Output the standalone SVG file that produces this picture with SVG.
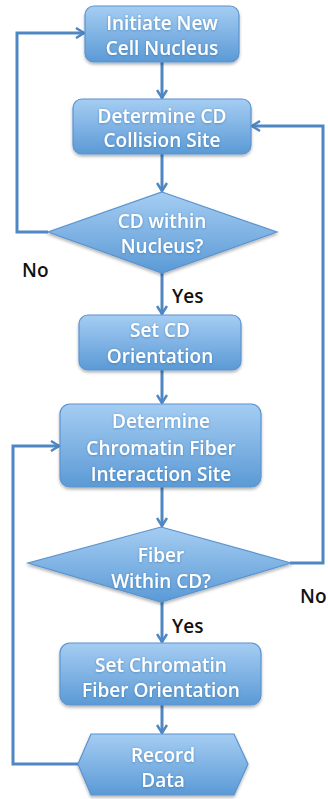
<svg xmlns="http://www.w3.org/2000/svg" width="328" height="799" viewBox="0 0 328 799">
<style>
.node{fill:url(#g);stroke:#5a93cf;stroke-width:1.2;filter:url(#sh)}
.t{font-family:"Open Sans","Liberation Sans",sans-serif;font-size:19px;font-weight:600;fill:#ffffff;text-anchor:middle;filter:url(#ts)}
.lbl{font-family:"Open Sans","Liberation Sans",sans-serif;font-size:19px;font-weight:600;fill:#111111}
.c{fill:none;stroke:#4f87c3;stroke-width:3;marker-end:url(#ah)}
</style>
<defs>
<linearGradient id="g" x1="0" y1="0" x2="0" y2="1">
<stop offset="0" stop-color="#a5cdf2"/>
<stop offset="1" stop-color="#5b9ad6"/>
</linearGradient>
<filter id="sh" x="-10%" y="-10%" width="120%" height="130%">
<feDropShadow dx="0" dy="2" stdDeviation="1.5" flood-color="#000" flood-opacity="0.3"/>
</filter>
<filter id="ts" x="-10%" y="-20%" width="120%" height="140%">
<feDropShadow dx="0" dy="0.5" stdDeviation="0.8" flood-color="#1d4f85" flood-opacity="0.45"/>
</filter>
<marker id="ah" viewBox="0 0 12 12" refX="10" refY="6" markerWidth="12" markerHeight="12" markerUnits="userSpaceOnUse" orient="auto">
<path d="M2,1 L10,6 L2,11" fill="none" stroke="#4f87c3" stroke-width="2.5"/>
</marker>
</defs>
<g id="connectors">
<path class="c" d="M162,62 V98"/>
<path class="c" d="M162,154 V191"/>
<path class="c" d="M48,232 H17 V33 H84"/>
<path class="c" d="M162,273 V314"/>
<path class="c" d="M162,370 V403"/>
<path class="c" d="M162,487 V526"/>
<path class="c" d="M290,563 H323 V126 H252"/>
<path class="c" d="M162,602 V642"/>
<path class="c" d="M162,705 V733"/>
<path class="c" d="M78,764 H13 V446 H59"/>
</g>
<g id="n1"><rect class="node" x="85" y="6" width="154" height="56" rx="9"/>
<text class="t" x="162" y="30">Initiate New</text><text class="t" x="162" y="55">Cell Nucleus</text></g>
<g id="n2"><rect class="node" x="73" y="99" width="178" height="55" rx="9"/>
<text class="t" x="162" y="123">Determine CD</text><text class="t" x="162" y="147">Collision Site</text></g>
<g id="n3"><polygon class="node" points="162,192 277,232 162,273 48,232"/>
<text class="t" x="162" y="228">CD within</text><text class="t" x="162" y="253">Nucleus?</text></g>
<g id="n4"><rect class="node" x="79" y="315" width="162" height="55" rx="9"/>
<text class="t" x="160" y="337">Set CD</text><text class="t" x="160" y="363">Orientation</text></g>
<g id="n5"><rect class="node" x="60" y="404" width="201" height="83" rx="10"/>
<text class="t" x="161" y="428">Determine</text><text class="t" x="161" y="455">Chromatin Fiber</text><text class="t" x="161" y="481">Interaction Site</text></g>
<g id="n6"><polygon class="node" points="161,527 291,563 161,602 28,563"/>
<text class="t" x="161" y="562">Fiber</text><text class="t" x="161" y="588">Within CD?</text></g>
<g id="n7"><rect class="node" x="60" y="643" width="201" height="62" rx="10"/>
<text class="t" x="161" y="672">Set Chromatin</text><text class="t" x="161" y="697">Fiber Orientation</text></g>
<g id="n8"><polygon class="node" points="91,734 234,734 248,764 234,795 91,795 78,764"/>
<text class="t" x="163" y="762">Record</text><text class="t" x="163" y="787">Data</text></g>
<g id="labels">
<text class="lbl" x="22" y="277">No</text>
<text class="lbl" x="172" y="303">Yes</text>
<text class="lbl" x="300" y="603">No</text>
<text class="lbl" x="172" y="633">Yes</text>
</g>
</svg>
